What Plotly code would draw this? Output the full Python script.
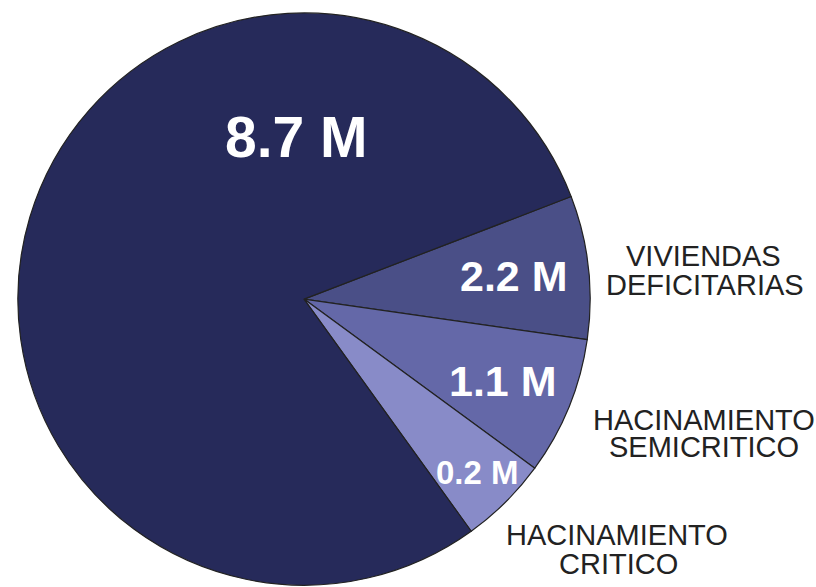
import plotly.graph_objects as go

# Slice order (clockwise, starting at the upper-right boundary)
categories = ["VIVIENDAS DEFICITARIAS", "HACINAMIENTO SEMICRITICO", "HACINAMIENTO CRITICO", "RESTO"]
values_millions = [2.2, 1.1, 0.2, 8.7]          # printed values
slice_share_pct = [8.1, 7.8, 5.0, 79.1]          # angular share as drawn in the picture
colors = ["#4a4f87", "#6468a8", "#888bc8", "#262a5a"]

label_lines = [["VIVIENDAS", "DEFICITARIAS"],
               ["HACINAMIENTO", "SEMICRITICO"],
               ["HACINAMIENTO", "CRITICO"],
               []]

W, H = 816, 587

fig = go.Figure(go.Pie(
    labels=categories,
    values=slice_share_pct,
    sort=False,
    direction="clockwise",
    rotation=69,
    textinfo="none",
    hoverinfo="label",
    marker=dict(colors=colors, line=dict(color="#222222", width=1.2)),
    domain=dict(x=[0.0219, 0.7232], y=[0.003, 0.978]),
    showlegend=False,
))

# value text positions (pixels) and sizes
val_pos = [(514, 276), (503, 381), (477, 472), (296, 137)]
val_size = [43, 43, 33, 57]
for v, (px, py), s in zip(values_millions, val_pos, val_size):
    fig.add_annotation(x=px / W, y=1 - py / H, xref="paper", yref="paper",
                       text=f"<b>{v} M</b>", showarrow=False,
                       xanchor="center", yanchor="middle",
                       font=dict(family="Arial, Liberation Sans", size=s, color="white"))

lab_pos = [[(703, 256), (705, 285)],
           [(704, 420), (704, 447)],
           [(617, 535), (618, 564)],
           []]
for lines, poss in zip(label_lines, lab_pos):
    for t, (px, py) in zip(lines, poss):
        fig.add_annotation(x=px / W, y=1 - py / H, xref="paper", yref="paper",
                           text=t, showarrow=False,
                           xanchor="center", yanchor="middle",
                           font=dict(family="Arial, Liberation Sans", size=29, color="#222222"))

fig.update_layout(width=W, height=H, margin=dict(l=0, r=0, t=0, b=0),
                  paper_bgcolor="white", plot_bgcolor="white")

fig.write_html("out.html",
               config={"displayModeBar": False},
               post_script="document.body.style.margin='0';document.body.style.overflow='hidden';")
